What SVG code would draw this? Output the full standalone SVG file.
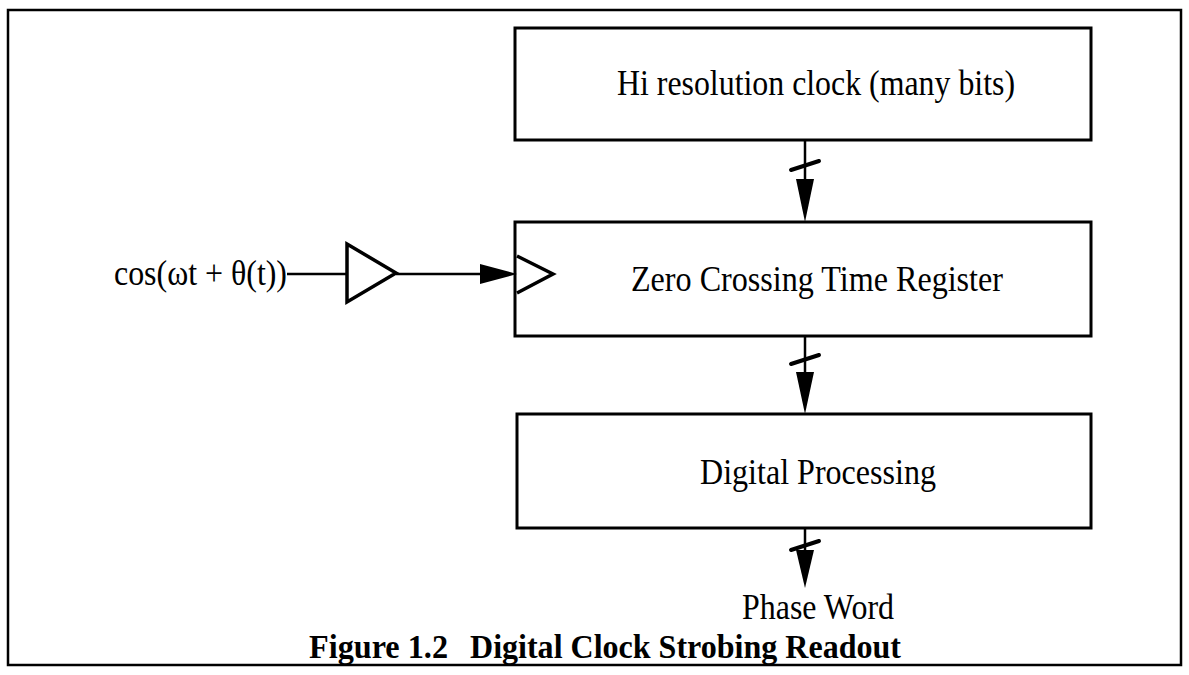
<svg xmlns="http://www.w3.org/2000/svg" width="1189" height="675" viewBox="0 0 1189 675">
  <style>
    .box { fill: none; stroke: #000; stroke-width: 3; }
    .frame { fill: none; stroke: #000; stroke-width: 2.5; }
    .wire { fill: none; stroke: #000; stroke-width: 2.5; }
    .slash { fill: none; stroke: #000; stroke-width: 4; stroke-linecap: round; }
    .tri { fill: none; stroke: #000; stroke-width: 3.5; stroke-linejoin: miter; }
    .head { fill: #000; stroke: none; }
    .lbl { font-family: "Liberation Serif", "Times New Roman", serif; font-size: 35px; fill: #000; }
    .cap { font-family: "Liberation Serif", "Times New Roman", serif; font-size: 33px; font-weight: bold; fill: #000; }
  </style>
  <rect width="1189" height="675" fill="#fff"/>
  <rect class="frame" x="8" y="10" width="1173" height="655"/>

  <g id="clock">
    <rect class="box" x="515" y="28" width="576" height="112"/>
    <text class="lbl" x="617" y="95" textLength="398" lengthAdjust="spacingAndGlyphs">Hi resolution clock (many bits)</text>
  </g>

  <g id="register">
    <rect class="box" x="515" y="222" width="576" height="114"/>
    <polyline class="tri" points="517,256 553,274 517,293"/>
    <text class="lbl" x="631" y="291" textLength="372" lengthAdjust="spacingAndGlyphs">Zero Crossing Time Register</text>
  </g>

  <g id="processing">
    <rect class="box" x="517" y="414" width="574" height="114"/>
    <text class="lbl" x="700" y="484" textLength="236" lengthAdjust="spacingAndGlyphs">Digital Processing</text>
  </g>

  <g id="buffer">
    <polygon class="tri" points="347,244 396,273 347,302"/>
  </g>

  <g id="input">
    <text class="lbl" x="114" y="285" textLength="173" lengthAdjust="spacingAndGlyphs">cos(ωt + θ(t))</text>
  </g>

  <g id="output">
    <text class="lbl" x="742" y="619" textLength="152" lengthAdjust="spacingAndGlyphs">Phase Word</text>
  </g>

  <g id="connectors">
    <line class="wire" x1="287" y1="274" x2="347" y2="274"/>
    <line class="wire" x1="396" y1="274" x2="484" y2="274"/>
    <polygon class="head" points="480,264 517,274 480,284"/>

    <line class="wire" x1="805" y1="140" x2="805" y2="182"/>
    <line class="slash" x1="791" y1="170" x2="819" y2="161"/>
    <polygon class="head" points="796,179 814,179 805,222"/>

    <line class="wire" x1="805" y1="336" x2="805" y2="375"/>
    <line class="slash" x1="791" y1="364" x2="819" y2="355"/>
    <polygon class="head" points="796,372 814,372 805,414"/>

    <line class="wire" x1="805" y1="528" x2="805" y2="552"/>
    <line class="slash" x1="791" y1="550" x2="819" y2="541"/>
    <polygon class="head" points="796,550 814,550 805,588"/>
  </g>

  <g id="caption">
    <text class="cap" x="309" y="658" textLength="139" lengthAdjust="spacingAndGlyphs">Figure 1.2</text>
    <text class="cap" x="470" y="658" textLength="431" lengthAdjust="spacingAndGlyphs">Digital Clock Strobing Readout</text>
  </g>
</svg>
